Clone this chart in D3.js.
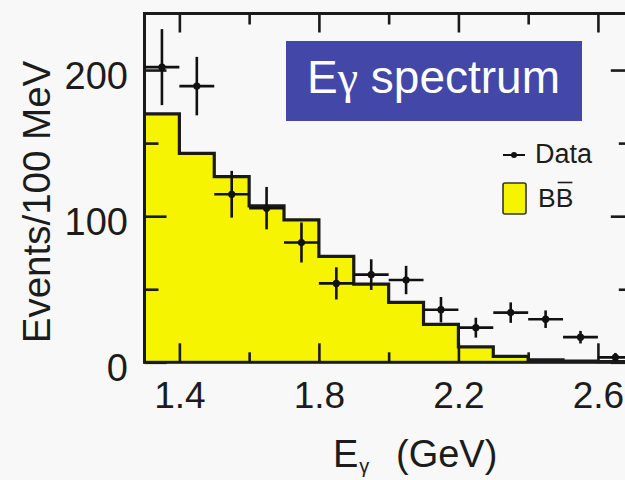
<!DOCTYPE html>
<html>
<head>
<meta charset="utf-8">
<script src="https://cdn.jsdelivr.net/npm/d3@7"></script>
<style>
  html, body { margin: 0; padding: 0; background: #f8f8f8; }
  svg { display: block; }
  text { font-family: "Liberation Sans", Arial, Helvetica, sans-serif; fill: #1c1c1c; }
</style>
</head>
<body>
<svg id="chart" width="625" height="480"></svg>
<script>
// Photon energy bins (lower edges, GeV), width 0.1 GeV
const binLow = [1.3, 1.4, 1.5, 1.6, 1.7, 1.8, 1.9, 2.0, 2.1, 2.2, 2.3, 2.4, 2.5, 2.6];
const binWidth = 0.1;
// B Bbar Monte Carlo expectation per bin (events / 100 MeV)
const bbbarMC = [170, 143, 127, 107, 97.5, 72.5, 53.5, 41, 26, 10.5, 4, 1.6, 0.9, 0.5];
// Measured data per bin and its uncertainty
const dataCounts = [202, 189, 115, 105.5, 82, 54, 60, 56.3, 36, 23.7, 34, 29.5, 17.2, 3.4];
const dataErrors = [26, 20, 16, 14.5, 13.7, 11, 10.5, 9.7, 8.7, 6.8, 7, 6, 4.3, 3];
// Axis ticks
const xMajorTicks = [1.4, 1.8, 2.2, 2.6];
const xMinorTicks = [1.6, 2.0, 2.4];
const yMajorTicks = [0, 100, 200];
const yMinorTicks = [50, 150];

const svg = d3.select("#chart");
svg.append("rect").attr("width", 625).attr("height", 480).attr("fill", "#f8f8f8");

const plotLeft = 144.5, plotRight = 632.8, plotTop = 13.5, plotBottom = 362.3;
const x = d3.scaleLinear().domain([1.3, 2.7]).range([plotLeft, plotRight]);
const y = d3.scaleLinear().domain([0, 238.7]).range([plotBottom, plotTop]);

const ink = "#1a1a1a";

// Histogram of the MC expectation (step shape)
const steps = binLow.map((b, i) => ({ x: b, v: bbbarMC[i] }));
steps.push({ x: binLow[binLow.length - 1] + binWidth, v: bbbarMC[bbbarMC.length - 1] });

svg.append("path")
  .datum(steps)
  .attr("fill", "#f7f400")
  .attr("d", d3.area().x(d => x(d.x)).y0(y(0)).y1(d => y(d.v)).curve(d3.curveStepAfter));

svg.append("path")
  .datum(steps)
  .attr("fill", "none")
  .attr("stroke", ink)
  .attr("stroke-width", 3.2)
  .attr("d", d3.line().x(d => x(d.x)).y(d => y(d.v)).curve(d3.curveStepAfter));

// Axes: ticks point inward on all four sides
function styleAxis(g) {
  g.select(".domain").remove();
  g.selectAll(".tick line").attr("stroke", ink).attr("stroke-width", 2.6);
  g.selectAll(".tick text")
    .style("font-family", "'Liberation Sans', Arial, sans-serif")
    .attr("fill", "#1c1c1c");
}

// bottom
svg.append("g").attr("transform", `translate(0,${plotBottom})`)
  .call(d3.axisBottom(x).tickValues(xMajorTicks).tickSizeInner(-19).tickSizeOuter(0)
        .tickPadding(19.5).tickFormat(d3.format(".1f")))
  .call(styleAxis)
  .call(g => g.selectAll(".tick text").attr("font-size", 37));
svg.append("g").attr("transform", `translate(0,${plotBottom})`)
  .call(d3.axisBottom(x).tickValues(xMinorTicks).tickSizeInner(-10).tickSizeOuter(0).tickFormat(""))
  .call(styleAxis);
// top
svg.append("g").attr("transform", `translate(0,${plotTop})`)
  .call(d3.axisTop(x).tickValues(xMajorTicks).tickSizeInner(-19).tickSizeOuter(0).tickFormat(""))
  .call(styleAxis);
svg.append("g").attr("transform", `translate(0,${plotTop})`)
  .call(d3.axisTop(x).tickValues(xMinorTicks).tickSizeInner(-11).tickSizeOuter(0).tickFormat(""))
  .call(styleAxis);
// left
svg.append("g").attr("transform", `translate(${plotLeft},0)`)
  .call(d3.axisLeft(y).tickValues(yMajorTicks).tickSizeInner(-22).tickSizeOuter(0).tickPadding(16.5))
  .call(styleAxis)
  .call(g => g.selectAll(".tick text").attr("font-size", 38).attr("dy", "0.49em"));
svg.append("g").attr("transform", `translate(${plotLeft},0)`)
  .call(d3.axisLeft(y).tickValues(yMinorTicks).tickSizeInner(-14).tickSizeOuter(0).tickFormat(""))
  .call(styleAxis);
// right
svg.append("g").attr("transform", `translate(${plotRight},0)`)
  .call(d3.axisRight(y).tickValues(yMajorTicks).tickSizeInner(-22).tickSizeOuter(0).tickFormat(""))
  .call(styleAxis);
svg.append("g").attr("transform", `translate(${plotRight},0)`)
  .call(d3.axisRight(y).tickValues(yMinorTicks).tickSizeInner(-14).tickSizeOuter(0).tickFormat(""))
  .call(styleAxis);

// Frame
svg.append("rect")
  .attr("x", plotLeft).attr("y", plotTop)
  .attr("width", plotRight - plotLeft).attr("height", plotBottom - plotTop)
  .attr("fill", "none").attr("stroke", ink).attr("stroke-width", 3);

// Data points with error bars
const pts = binLow.map((b, i) => ({ c: b + binWidth / 2, v: dataCounts[i], e: dataErrors[i] }));
const pg = svg.append("g").attr("stroke", "#111").attr("stroke-width", 2.6);
pg.selectAll("line.v").data(pts).join("line").attr("class", "v")
  .attr("x1", d => x(d.c)).attr("x2", d => x(d.c))
  .attr("y1", d => y(d.v - d.e)).attr("y2", d => y(d.v + d.e));
pg.selectAll("line.h").data(pts).join("line").attr("class", "h")
  .attr("x1", d => x(d.c - binWidth / 2)).attr("x2", d => x(d.c + binWidth / 2))
  .attr("y1", d => y(d.v)).attr("y2", d => y(d.v));
svg.append("g").selectAll("circle").data(pts).join("circle")
  .attr("cx", d => x(d.c)).attr("cy", d => y(d.v)).attr("r", 3.6).attr("fill", "#111");

// Axis titles
const xt = svg.append("text").attr("x", 333).attr("y", 467).attr("font-size", 38);
xt.append("tspan").text("E");
xt.append("tspan").attr("font-size", 20).attr("dy", 6).attr("dx", 1).text("γ");
xt.append("tspan").attr("x", 396).attr("dy", -6).text("(GeV)");

svg.append("text")
  .attr("transform", "translate(50,202) rotate(-90)")
  .attr("text-anchor", "middle")
  .attr("font-size", 38.5)
  .text("Events/100 MeV");

// Legend
const lg = svg.append("g");
lg.append("line").attr("x1", 503).attr("x2", 525).attr("y1", 155).attr("y2", 155)
  .attr("stroke", "#111").attr("stroke-width", 2);
lg.append("circle").attr("cx", 514).attr("cy", 155).attr("r", 3).attr("fill", "#111");
lg.append("text").attr("x", 535).attr("y", 163).attr("font-size", 27).text("Data");
lg.append("rect").attr("x", 503).attr("y", 183).attr("width", 23).attr("height", 31).attr("rx", 2)
  .attr("fill", "#f7f400").attr("stroke", "#333").attr("stroke-width", 1.6);
const bbText = lg.append("text").attr("x", 538).attr("y", 207).attr("font-size", 26.5).text("BB");
const bNode = bbText.node();
const b2Start = 538 + bNode.getSubStringLength(0, 1);
const b2Len = bNode.getSubStringLength(1, 1);
lg.append("line")
  .attr("x1", b2Start + 2).attr("x2", b2Start + b2Len - 1)
  .attr("y1", 182.5).attr("y2", 182.5)
  .attr("stroke", "#1c1c1c").attr("stroke-width", 1.6);

// Title box
svg.append("rect").attr("x", 286).attr("y", 41).attr("width", 296).attr("height", 80)
  .attr("fill", "#4347a8");
const tt = svg.append("text").attr("x", 307).attr("y", 93).attr("font-size", 46)
  .style("fill", "#ffffff");
tt.append("tspan").text("E");
tt.append("tspan").style("font-family", "'Liberation Serif', 'DejaVu Serif', serif").text("γ");
tt.append("tspan").text(" spectrum");
</script>
</body>
</html>
